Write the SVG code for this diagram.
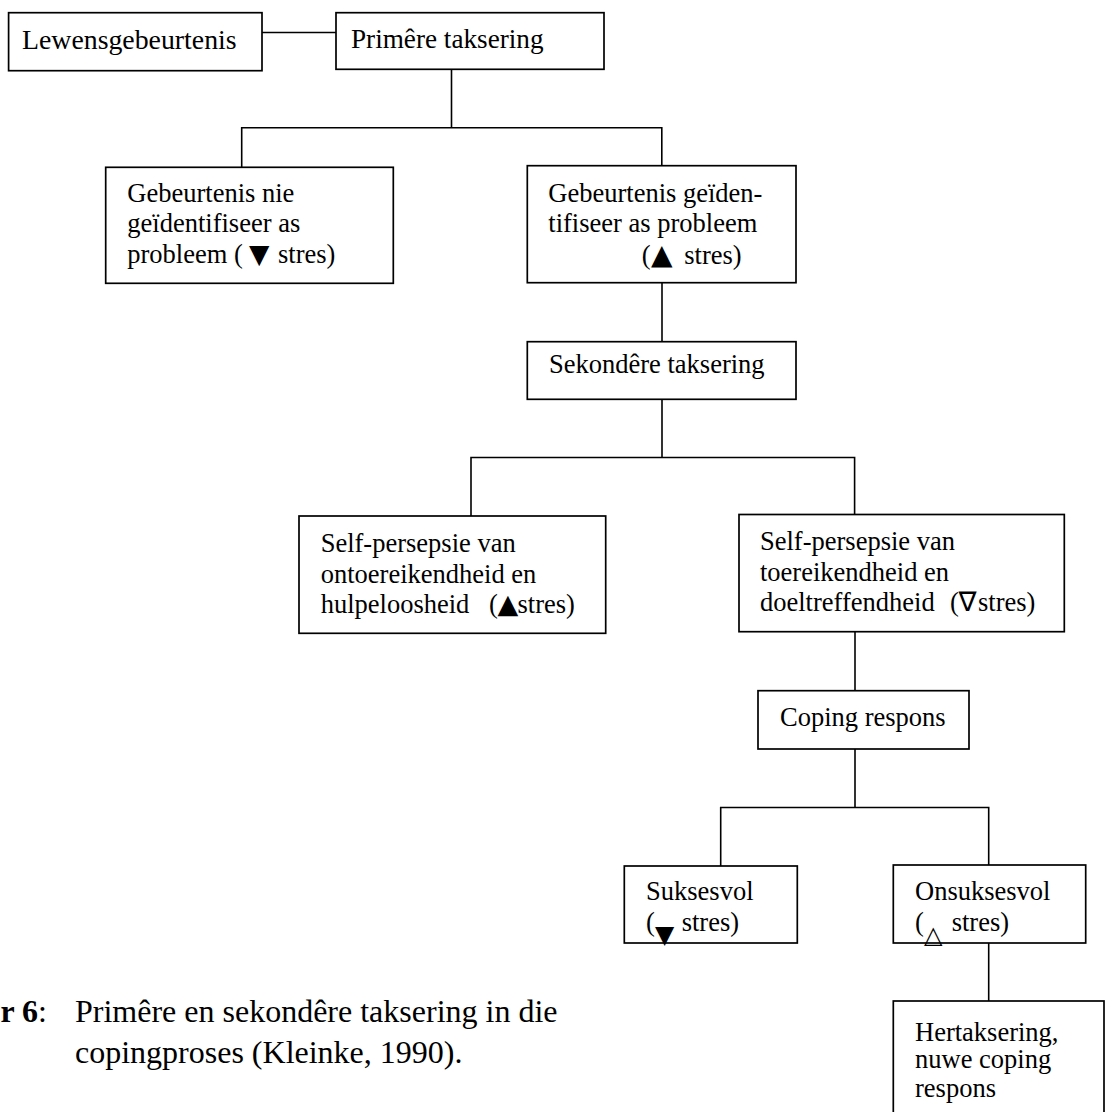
<svg xmlns="http://www.w3.org/2000/svg" width="1105" height="1112" viewBox="0 0 1105 1112">
  <style>
    .box { fill: #ffffff; stroke: #000000; stroke-width: 1.7; }
    .wire { fill: none; stroke: #000000; stroke-width: 1.6; }
    .lbl { font-family: "Liberation Serif", "Times New Roman", serif; font-size: 26.5px; fill: #000000; }
    .sym { font-family: "DejaVu Sans", sans-serif; fill: #000000; }
    .cap { font-family: "Liberation Serif", "Times New Roman", serif; font-size: 32px; fill: #000000; }
  </style>
  <rect width="1105" height="1112" fill="#ffffff"/>

  <!-- connectors -->
  <g id="connectors" class="wire">
    <path d="M262 32.5 H336"/>
    <path d="M451.5 69.3 V127.7 M241.7 167.3 V127.7 H661.8 V165.7"/>
    <path d="M662 282.7 V341.7"/>
    <path d="M662 399.3 V457.5 M471 516 V457.5 H854.6 V514.5"/>
    <path d="M855 631.7 V690.7"/>
    <path d="M855 749 V807.5 M720.7 866 V807.5 H988.7 V865"/>
    <path d="M988.7 943 V1001"/>
  </g>

  <g id="lewensgebeurtenis">
    <rect class="box" x="8.6" y="12.7" width="253.4" height="58"/>
    <text class="lbl" x="22" y="49" style="font-size:27.8px">Lewensgebeurtenis</text>
  </g>

  <g id="primere-taksering">
    <rect class="box" x="336" y="12.7" width="268" height="56.6"/>
    <text class="lbl" x="351" y="48" style="font-size:27.2px">Primêre taksering</text>
  </g>

  <g id="nie-probleem">
    <rect class="box" x="105.7" y="167.3" width="287.6" height="116"/>
    <text class="lbl" x="127.3" y="201.5">Gebeurtenis nie</text>
    <text class="lbl" x="127.3" y="232">geïdentifiseer as</text>
    <text class="lbl" x="127.3" y="263">probleem (</text>
    <text class="sym" x="249" y="263" font-size="26.5">▼</text>
    <text class="lbl" x="278" y="263">stres)</text>
  </g>

  <g id="wel-probleem">
    <rect class="box" x="527.3" y="165.7" width="268.7" height="117"/>
    <text class="lbl" x="548.3" y="201.5">Gebeurtenis geïden-</text>
    <text class="lbl" x="548.3" y="232">tifiseer as probleem</text>
    <text class="lbl" x="641.7" y="264">(</text>
    <text class="sym" x="651" y="264" font-size="28">▲</text>
    <text class="lbl" x="684.3" y="264">stres)</text>
  </g>

  <g id="sekondere-taksering">
    <rect class="box" x="527.3" y="341.7" width="268.7" height="57.6"/>
    <text class="lbl" x="549" y="373">Sekondêre taksering</text>
  </g>

  <g id="ontoereikend">
    <rect class="box" x="299" y="516" width="306.7" height="117.3"/>
    <text class="lbl" x="320.7" y="551.5">Self-persepsie van</text>
    <text class="lbl" x="320.7" y="582.5">ontoereikendheid en</text>
    <text class="lbl" x="320.7" y="613.3">hulpeloosheid</text>
    <text class="lbl" x="489" y="613.3">(</text>
    <text class="sym" x="497.5" y="613.3" font-size="27">▲</text>
    <text class="lbl" x="517.5" y="613.3">stres)</text>
  </g>

  <g id="toereikend">
    <rect class="box" x="739" y="514.5" width="325.3" height="117.2"/>
    <text class="lbl" x="760" y="550">Self-persepsie van</text>
    <text class="lbl" x="760" y="580.5">toereikendheid en</text>
    <text class="lbl" x="760" y="611">doeltreffendheid</text>
    <text class="lbl" x="950" y="611">(</text>
    <text class="sym" x="958.5" y="611" font-size="27">∇</text>
    <text class="lbl" x="978" y="611">stres)</text>
  </g>

  <g id="coping-respons">
    <rect class="box" x="758" y="690.7" width="211" height="58.3"/>
    <text class="lbl" x="780" y="726">Coping respons</text>
  </g>

  <g id="suksesvol">
    <rect class="box" x="624.3" y="866" width="173" height="77"/>
    <text class="lbl" x="646" y="900">Suksesvol</text>
    <text class="lbl" x="646" y="930.7">(</text>
    <text class="sym" x="655" y="943" font-size="25">▼</text>
    <text class="lbl" x="681.7" y="930.7">stres)</text>
  </g>

  <g id="onsuksesvol">
    <rect class="box" x="893.3" y="865" width="192.4" height="78"/>
    <text class="lbl" x="915" y="900">Onsuksesvol</text>
    <text class="lbl" x="915" y="930.7">(</text>
    <text class="sym" x="924" y="943" font-size="24">△</text>
    <text class="lbl" x="951.7" y="930.7">stres)</text>
  </g>

  <g id="hertaksering">
    <rect class="box" x="893.3" y="1001" width="210.7" height="130"/>
    <text class="lbl" x="915" y="1040.5">Hertaksering,</text>
    <text class="lbl" x="915" y="1068.3">nuwe coping</text>
    <text class="lbl" x="915" y="1096.5">respons</text>
  </g>

  <!-- figure caption -->
  <g id="caption">
    <text class="cap" x="38" y="1022" text-anchor="end" font-weight="bold">r 6</text>
    <text class="cap" x="38" y="1022">:</text>
    <text class="cap" x="75" y="1022">Primêre en sekondêre taksering in die</text>
    <text class="cap" x="75" y="1063">copingproses (Kleinke, 1990).</text>
  </g>
</svg>
